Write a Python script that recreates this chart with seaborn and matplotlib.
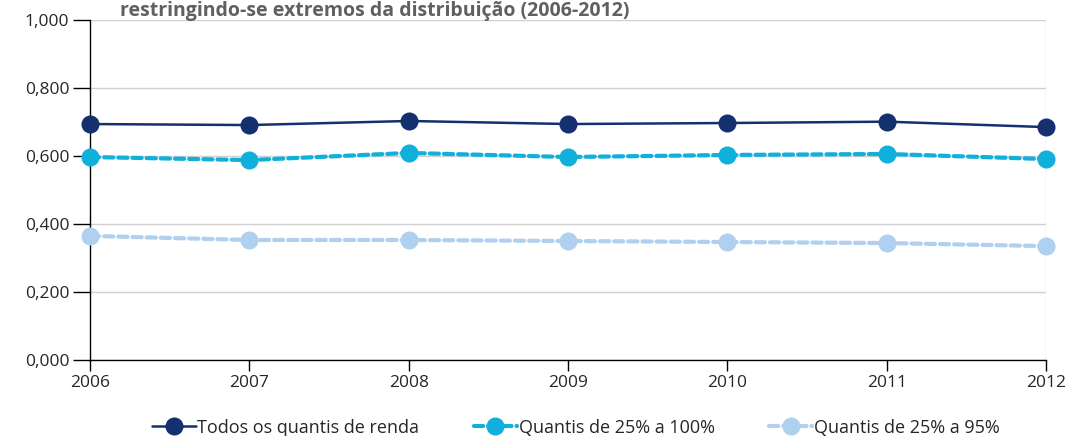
import numpy as np
import pandas as pd
import matplotlib
matplotlib.use('Agg')
import matplotlib.pyplot as plt
import seaborn as sns
from matplotlib.ticker import FuncFormatter

years = [2006, 2007, 2008, 2009, 2010, 2011, 2012]
todos = [0.694, 0.691, 0.703, 0.694, 0.697, 0.701, 0.685]
q25_100 = [0.597, 0.588, 0.609, 0.597, 0.603, 0.606, 0.591]
q25_95 = [0.365, 0.353, 0.353, 0.350, 0.347, 0.344, 0.335]
series_names = ['Todos os quantis de renda', 'Quantis de 25% a 100%', 'Quantis de 25% a 95%']

df = pd.DataFrame({'ano': years * 3,
                   'valor': todos + q25_100 + q25_95,
                   'serie': [series_names[0]] * 7 + [series_names[1]] * 7 + [series_names[2]] * 7})

sns.set_style('white')
plt.rcParams['font.family'] = ['Open Sans', 'DejaVu Sans']

colors = ['#15306f', '#0fb0dc', '#b0d0ef']
styles = [(0, ()), (0, (2.2, 1.2)), (0, (2.2, 1.2))]

fig = plt.figure(figsize=(10.67, 4.36), dpi=100)
ax = fig.add_axes([90 / 1067, 1 - 360 / 436, (1046 - 90) / 1067, 340 / 436])

for name, c, ls in zip(series_names, colors, styles):
    sub = df[df['serie'] == name]
    lw = 1.8 if ls == (0, ()) else 3.0
    sns.lineplot(data=sub, x='ano', y='valor', ax=ax, color=c, linestyle=ls,
                 linewidth=lw, marker='o', markersize=13, markeredgewidth=0,
                 label=name, clip_on=False, zorder=3, dash_capstyle='round')

ax.set_xlim(2006, 2012)
ax.set_ylim(0, 1.0)
ax.set_yticks(np.arange(0, 1.01, 0.2))
ax.yaxis.set_major_formatter(FuncFormatter(lambda v, p: f'{v:.3f}'.replace('.', ',')))
ax.set_xticks(years)
ax.grid(axis='y', color='#d0d0d0', linewidth=1)
ax.axvline(2012, color='#d8d8d8', linewidth=1, zorder=0)
for s in ['top', 'right']:
    ax.spines[s].set_visible(False)
ax.spines['left'].set_color('black')
ax.spines['bottom'].set_color('black')
ax.spines['left'].set_linewidth(1)
ax.spines['bottom'].set_linewidth(1)
ax.tick_params(axis='y', length=12, width=1, color='black', labelsize=12.5, pad=3, left=True)
ax.tick_params(axis='x', length=8, width=1, color='black', labelsize=12.5, pad=3, bottom=True)
ax.set_xlabel('')
ax.set_ylabel('')

ax.legend(loc='upper center', bbox_to_anchor=(0.5 + 8 / 956, -0.125), ncol=3, frameon=False,
          fontsize=13, handlelength=2.4, handletextpad=0.1, columnspacing=3.0)

fig.text(120 / 1067, 1 - 1 / 436, 'restringindo-se extremos da distribuição (2006-2012)',
         fontsize=14, fontweight='bold', color='#606060', va='top', ha='left')

fig.savefig('out.png', dpi=100)
